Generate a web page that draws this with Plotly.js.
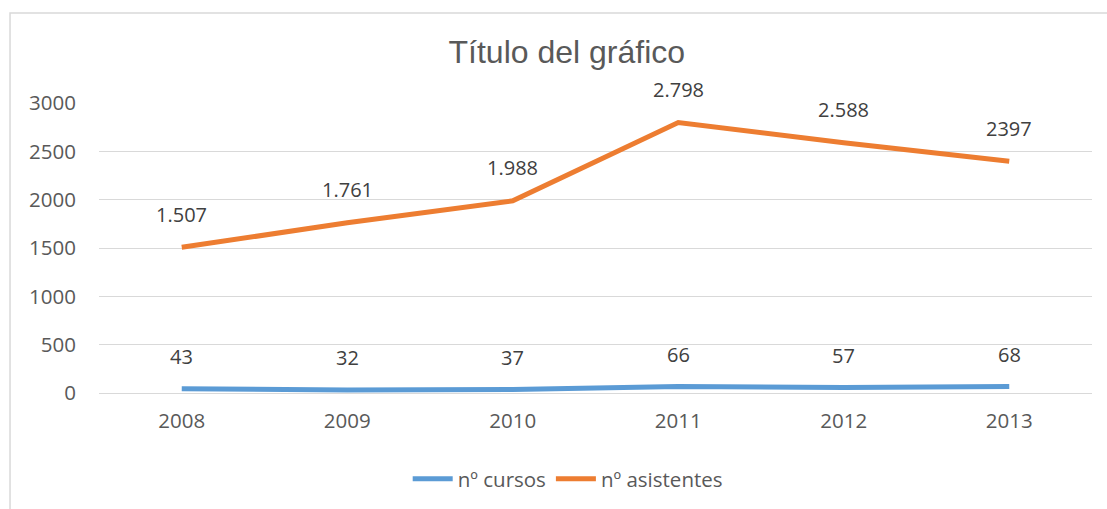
<!DOCTYPE html>
<html>
<head>
<meta charset="utf-8">
<script src="https://cdn.plot.ly/plotly-3.0.1.min.js"></script>
<style>
html,body{margin:0;padding:0;background:#fff;}
#chart{width:1107px;height:509px;}
</style>
</head>
<body>
<div id="chart"></div>
<script>
const years = ['2008', '2009', '2010', '2011', '2012', '2013'];
const cursos = [43, 32, 37, 66, 57, 68];
const asistentes = [1507, 1761, 1988, 2798, 2588, 2397];
const cursosLabels = ['43', '32', '37', '66', '57', '68'];
const asistentesLabels = ['1.507', '1.761', '1.988', '2.798', '2.588', '2397'];
const yTicks = [0, 500, 1000, 1500, 2000, 2500, 3000];

const FONT = '"Open Sans", "Noto Sans", sans-serif';
const TITLE_FONT = '"Liberation Sans", Arial, sans-serif';

const traces = [
  {x: years, y: cursos, name: 'nº cursos', type: 'scatter', mode: 'lines',
   line: {color: '#5B9BD5', width: 5, shape: 'linear'}},
  {x: years, y: asistentes, name: 'nº asistentes', type: 'scatter', mode: 'lines',
   line: {color: '#ED7D31', width: 5, shape: 'linear'}}
];

const annotations = [];
years.forEach((yr, i) => {
  annotations.push({x: i, y: cursos[i], xref: 'x', yref: 'y', text: cursosLabels[i], showarrow: false,
    yshift: 32, yanchor: 'middle', font: {family: FONT, size: 20, color: '#404040'}});
  annotations.push({x: i, y: asistentes[i], xref: 'x', yref: 'y', text: asistentesLabels[i], showarrow: false,
    yshift: 33, yanchor: 'middle', font: {family: FONT, size: 20, color: '#404040'}});
});

const layout = {
  width: 1107, height: 509,
  margin: {l: 99, r: 15, t: 103, b: 115.5, autoexpand: false},
  paper_bgcolor: '#fff', plot_bgcolor: '#fff',
  font: {family: FONT, color: '#595959', size: 20},
  title: {text: 'Título del gráfico', x: 0.512, xref: 'container', xanchor: 'center', y: 0.898, yref: 'container', yanchor: 'middle',
    font: {family: TITLE_FONT, size: 32, color: '#595959'}},
  xaxis: {type: 'category', range: [-0.5, 5.5], showgrid: false, zeroline: false,
    showline: false, ticks: '', ticklabelstandoff: 13, tickfont: {family: FONT, size: 20.5, color: '#595959'},
    fixedrange: true},
  yaxis: {range: [0, 3000], tickvals: yTicks, ticktext: yTicks.map(String), showgrid: true,
    gridcolor: '#D9D9D9', gridwidth: 1, zeroline: true, zerolinecolor: '#D9D9D9', zerolinewidth: 1,
    showline: false, ticks: '', ticklabelstandoff: 22, tickfont: {family: FONT, size: 20.5, color: '#595959'},
    fixedrange: true},
  showlegend: true,
  legend: {orientation: 'h', x: 0.472, xanchor: 'center', y: -0.296, yanchor: 'middle',
    font: {family: FONT, size: 20.5, color: '#595959'}, itemwidth: 40, tracegroupgap: 0},
  annotations: annotations,
  shapes: [{type: 'rect', xref: 'paper', yref: 'paper', x0: -0.0896, x1: 1.1, y0: -0.5, y1: 1.31,
    line: {color: '#D9D9D9', width: 1.5}, fillcolor: 'rgba(0,0,0,0)', layer: 'below'}]
};

Plotly.newPlot('chart', traces, layout, {displayModeBar: false, staticPlot: true});
</script>
</body>
</html>
